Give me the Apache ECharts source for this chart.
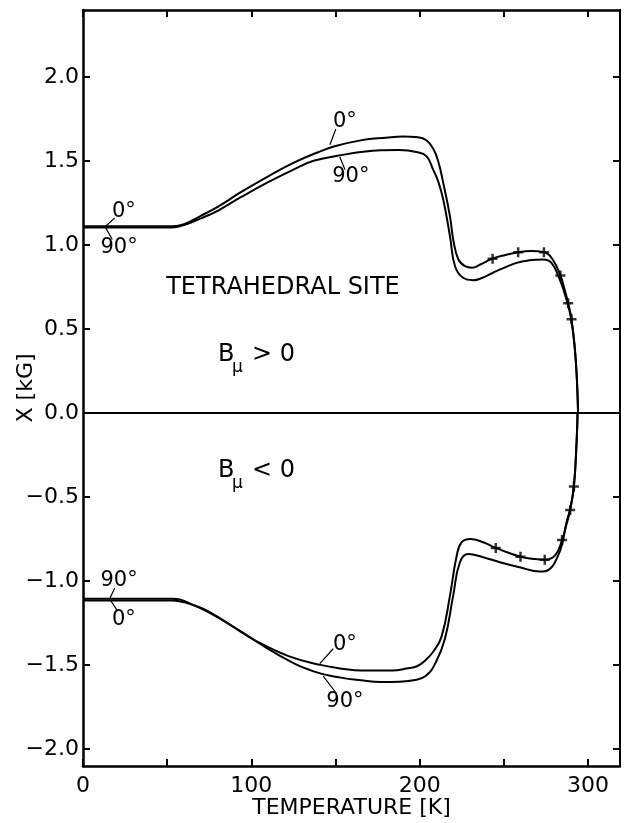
<!DOCTYPE html>
<html><head><meta charset="utf-8">
<script src="https://cdn.jsdelivr.net/npm/echarts@6/dist/echarts.min.js"></script>
<style>html,body{margin:0;padding:0;background:#fff}#c{width:630px;height:823px}</style>
</head><body><div id="c"></div>
<script>
// ---- axis ticks / labels ----
const xTicks = [0, 50, 100, 150, 200, 250, 300];
const xLabels = [0, 100, 200, 300];
const yTicks = [-2, -1.5, -1, -0.5, 0, 0.5, 1, 1.5, 2];

// ---- B_mu > 0, 0 deg ----
const up0T = [0, 30, 53, 60, 70, 80, 94, 110, 125, 140, 150, 165, 180, 190, 199, 204, 208, 211, 214, 218, 220, 223, 227, 231, 236, 243, 251, 258.5, 266, 274, 279, 283.6, 286, 288.2, 290.2, 292.2, 293.4, 294.1];
const up0V = [1.113, 1.113, 1.113, 1.125, 1.175, 1.228, 1.317, 1.41, 1.49, 1.555, 1.59, 1.624, 1.64, 1.647, 1.643, 1.625, 1.575, 1.50, 1.371, 1.172, 1.03, 0.915, 0.875, 0.866, 0.885, 0.919, 0.942, 0.958, 0.965, 0.958, 0.915, 0.82, 0.74, 0.654, 0.559, 0.38, 0.2, 0];
// ---- B_mu > 0, 90 deg ----
const up90T = [0, 30, 53, 60, 70, 80, 94, 110, 125, 137, 153, 165, 177, 188, 198, 204, 208, 211, 214, 218, 221, 225.8, 231.8, 237, 243.6, 250, 257.5, 265, 273.3, 278.3, 283.2, 287.2, 290, 292.2, 293.4, 294.1];
const up90V = [1.105, 1.105, 1.105, 1.12, 1.16, 1.205, 1.287, 1.375, 1.45, 1.503, 1.535, 1.555, 1.565, 1.566, 1.555, 1.53, 1.45, 1.38, 1.272, 1.054, 0.875, 0.806, 0.792, 0.805, 0.836, 0.865, 0.895, 0.91, 0.915, 0.895, 0.796, 0.677, 0.56, 0.38, 0.2, 0];
// ---- B_mu < 0, 0 deg ----
const lo0T = [0, 30, 53, 60, 69.4, 83.8, 102.9, 122.1, 141, 155, 165, 184, 192, 198.7, 203.5, 208, 213, 218, 222, 225, 230, 237.7, 245.2, 252, 259.9, 267, 274.3, 280.3, 284.6, 287, 289.4, 291.6, 293.2, 293.8];
const lo0V = [-1.115, -1.115, -1.115, -1.125, -1.158, -1.238, -1.356, -1.446, -1.498, -1.522, -1.532, -1.532, -1.52, -1.505, -1.47, -1.42, -1.33, -1.086, -0.848, -0.768, -0.749, -0.768, -0.802, -0.828, -0.854, -0.866, -0.872, -0.848, -0.755, -0.67, -0.576, -0.436, -0.174, 0];
// ---- B_mu < 0, 90 deg ----
const lo90T = [0, 30, 53, 57.5, 65, 74.2, 93.4, 117.3, 136.5, 153.2, 165, 177.2, 188, 196.3, 203.5, 209.5, 215, 219.9, 223.9, 228.8, 237.7, 247.6, 259.5, 271.4, 277.3, 282.2, 284.8, 287.2, 289.4, 291.6, 293.2, 293.8];
const lo90V = [-1.105, -1.105, -1.105, -1.109, -1.14, -1.178, -1.297, -1.446, -1.535, -1.574, -1.59, -1.600, -1.598, -1.590, -1.564, -1.485, -1.343, -1.086, -0.887, -0.838, -0.857, -0.887, -0.917, -0.943, -0.927, -0.848, -0.77, -0.65, -0.57, -0.436, -0.174, 0];
// ---- measured points (+) ----
const markUpT = [243.3, 258.5, 273.8, 283.6, 288.2, 290.2];
const markUpV = [0.919, 0.958, 0.958, 0.820, 0.654, 0.559];
const markLoT = [245.2, 259.9, 274.3, 284.6, 289.4, 291.6];
const markLoV = [-0.802, -0.854, -0.872, -0.755, -0.576, -0.436];

const FONT = '"DejaVu Sans", sans-serif';
const zip = (a, b) => a.map((t, i) => [t, b[i]]);
const chart = echarts.init(document.getElementById('c'), null, {renderer: 'canvas'});

const lineSeries = (T, V) => ({
  type: 'line', data: zip(T, V), showSymbol: false, smooth: 0.45,
  lineStyle: {color: '#000', width: 2}, silent: true, z: 3
});
const plus = 'path://M-1,-4H1V-1H4V1H1V4H-1V1H-4V-1H-1Z';
const markSeries = (T, V) => ({
  type: 'scatter', data: zip(T, V), symbol: plus, symbolSize: 10,
  itemStyle: {color: '#000'}, silent: true, z: 4
});
const axisLineStyle = {color: '#000', width: 2.5};
const tickStyle = {color: '#000', width: 2};

const s0 = lineSeries(up0T, up0V);
s0.markLine = {silent: true, symbol: 'none', label: {show: false},
  lineStyle: {color: '#000', width: 1.8, type: 'solid'}, data: [{yAxis: 0}]};

chart.setOption({
  animation: false,
  backgroundColor: '#fff',
  grid: {left: 83, right: 10, top: 10, bottom: 57, containLabel: false, outerBoundsMode: 'none'},
  xAxis: [{
    type: 'value', min: 0, max: 319, position: 'bottom',
    axisLine: {onZero: false, lineStyle: axisLineStyle},
    axisTick: {inside: true, length: 7, customValues: xTicks, lineStyle: tickStyle},
    axisLabel: {customValues: xLabels, margin: 9, color: '#000', fontSize: 22, fontFamily: FONT},
    splitLine: {show: false},
    name: 'TEMPERATURE [K]', nameLocation: 'middle', nameGap: 31, nameMoveOverlap: false,
    nameTextStyle: {color: '#000', fontSize: 22, fontFamily: FONT}
  }, {
    type: 'value', min: 0, max: 319, position: 'top',
    axisLine: {onZero: false, lineStyle: axisLineStyle},
    axisTick: {inside: true, length: 7, customValues: xTicks, lineStyle: tickStyle},
    axisLabel: {show: false}, splitLine: {show: false}
  }],
  yAxis: [{
    type: 'value', min: -2.1, max: 2.4, position: 'left',
    axisLine: {onZero: false, lineStyle: axisLineStyle},
    axisTick: {inside: true, length: 7, customValues: yTicks, lineStyle: tickStyle},
    axisLabel: {customValues: yTicks, margin: 4, color: '#000', fontSize: 22, fontFamily: FONT,
      formatter: v => (v < 0 ? '\u2212' : '') + Math.abs(v).toFixed(1)},
    splitLine: {show: false},
    name: 'X [kG]', nameLocation: 'middle', nameGap: 46, nameRotate: 90, nameMoveOverlap: false,
    nameTextStyle: {color: '#000', fontSize: 22, fontFamily: FONT}
  }, {
    type: 'value', min: -2.1, max: 2.4, position: 'right',
    axisLine: {onZero: false, lineStyle: {color: '#000', width: 2}},
    axisTick: {inside: true, length: 7, customValues: yTicks, lineStyle: tickStyle},
    axisLabel: {show: false}, splitLine: {show: false}
  }],
  series: [
    s0,
    lineSeries(up90T, up90V),
    lineSeries(lo0T, lo0V),
    lineSeries(lo90T, lo90V),
    markSeries(markUpT, markUpV),
    markSeries(markLoT, markLoV)
  ]
});

// ---- annotations, anchored in data coordinates ----
const texts = [
  {t: 'TETRAHEDRAL SITE', T: 118.8, v: 0.749, size: 24, align: 'center'},
  {t: '0\u00B0', T: 24.3, v: 1.200, size: 21, align: 'center'},
  {t: '90\u00B0', T: 21.4, v: 0.986, size: 21, align: 'center'},
  {t: '0\u00B0', T: 155.6, v: 1.735, size: 21, align: 'center'},
  {t: '90\u00B0', T: 159.1, v: 1.408, size: 21, align: 'center'},
  {t: '90\u00B0', T: 21.4, v: -0.998, size: 21, align: 'center'},
  {t: '0\u00B0', T: 24.3, v: -1.230, size: 21, align: 'center'},
  {t: '0\u00B0', T: 155.6, v: -1.378, size: 21, align: 'center'},
  {t: '90\u00B0', T: 155.6, v: -1.717, size: 21, align: 'center'},
  {t: 'B', T: 80.2, v: 0.345, size: 24, align: 'left'},
  {t: '\u03BC', T: 88.5, v: 0.272, size: 17, align: 'left'},
  {t: '> 0', T: 100.4, v: 0.345, size: 24, align: 'left'},
  {t: 'B', T: 80.2, v: -0.345, size: 24, align: 'left'},
  {t: '\u03BC', T: 88.5, v: -0.418, size: 17, align: 'left'},
  {t: '< 0', T: 100.4, v: -0.345, size: 24, align: 'left'}
];
const leaders = [
  [13.5, 1.113, 18.8, 1.163], [13.5, 1.103, 17.4, 1.034],
  [146.7, 1.598, 150.2, 1.692], [152.6, 1.525, 155.6, 1.450],
  [16.0, -1.101, 18.8, -1.042], [16.4, -1.115, 20.4, -1.175],
  [140.7, -1.491, 148.6, -1.402], [142.7, -1.565, 150.7, -1.670]
];
const px = (T, v) => chart.convertToPixel({xAxisIndex: 0, yAxisIndex: 0}, [T, v]);
const graphic = [];
texts.forEach(a => {
  const p = px(a.T, a.v);
  graphic.push({type: 'text', x: p[0], y: p[1], silent: true, z: 10,
    style: {text: a.t, font: a.size + 'px ' + FONT, fill: '#000',
      textAlign: a.align, align: a.align, textVerticalAlign: 'middle', verticalAlign: 'middle'}});
});
leaders.forEach(l => {
  const p1 = px(l[0], l[1]), p2 = px(l[2], l[3]);
  graphic.push({type: 'line', silent: true, z: 10,
    shape: {x1: p1[0], y1: p1[1], x2: p2[0], y2: p2[1]},
    style: {stroke: '#000', lineWidth: 1.2}});
});
chart.setOption({graphic: graphic});
</script></body></html>
